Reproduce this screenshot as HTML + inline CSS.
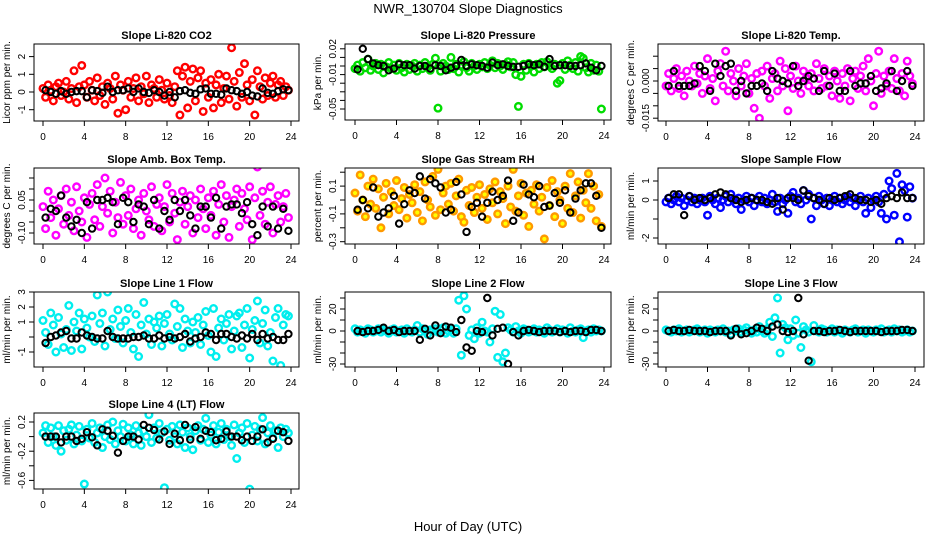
<!DOCTYPE html>
<html><head><meta charset="utf-8"><style>
body{margin:0;background:#fff;}
svg{display:block;font-family:"Liberation Sans",sans-serif;}
</style></head><body>
<svg id="c" width="936" height="540">
<text x="468" y="13" text-anchor="middle" font-size="13">NWR_130704  Slope Diagnostics</text>
<text x="468" y="531" text-anchor="middle" font-size="13">Hour of Day (UTC)</text>
</svg>
<script>
const xTicks=[0,4,8,12,16,20,24];
const hoursColor=Array.from({length:96},(_, i)=>i*0.25);
const hoursBlack=Array.from({length:48},(_, i)=>i*0.5+0.25);

const co2Color=[0.2,-0.3,0.4,0.1,-0.5,0.3,0.5,-0.2,0.0,0.6,-0.4,0.2,1.2,-0.6,0.3,1.5,0.4,-0.3,0.6,0.1,-0.5,0.8,-0.2,0.3,-0.7,0.5,0.2,-0.4,0.9,-1.2,0.4,0.1,-1.0,0.6,-0.3,0.2,0.8,-0.5,0.3,-0.1,0.9,-0.6,0.4,0.2,-0.3,0.7,0.1,-0.4,0.5,-0.2,-0.6,0.3,1.2,-1.3,0.9,1.4,-0.9,0.6,1.3,-0.5,0.8,1.2,-1.1,0.5,-0.3,0.7,-0.9,0.4,1.0,-0.6,0.2,0.9,-0.4,2.5,0.6,-0.8,1.1,-0.3,1.6,0.4,-0.5,0.7,-1.3,1.2,0.3,-0.4,0.8,-0.2,0.5,0.9,-0.3,0.4,0.6,-0.2,0.3,0.1];
const co2Black=[0.1,0.0,-0.1,0.05,-0.1,0.0,0.05,0.05,-0.3,0.1,0.05,-0.05,0.3,0.0,0.1,0.1,0.2,0.0,0.2,0.0,-0.05,0.1,0.0,-0.2,0.0,-0.3,0.05,0.1,-0.05,-0.1,0.15,0.2,-0.1,-0.1,-0.15,0.2,0.1,0.05,-0.1,0.0,-0.2,-0.25,0.2,-0.05,-0.1,0.05,0.15,0.1];
const presColor=[-0.003,0.001,-0.006,0.004,-0.002,0.008,-0.005,0.000,0.003,-0.004,0.002,-0.008,-0.001,0.004,-0.003,0.001,-0.005,0.003,-0.002,-0.007,0.002,-0.004,0.000,0.003,-0.006,0.001,-0.003,0.004,-0.001,-0.005,0.002,0.009,-0.049,-0.006,0.003,0.000,-0.004,0.010,-0.003,0.002,-0.007,0.001,0.005,-0.002,-0.006,0.003,0.000,-0.004,0.002,-0.001,0.004,-0.003,0.001,0.006,-0.002,0.003,0.000,-0.004,0.002,0.005,-0.001,0.004,-0.010,-0.047,-0.012,0.002,-0.005,0.003,0.000,-0.007,0.002,-0.003,0.004,-0.001,0.005,0.000,-0.003,0.002,-0.020,-0.017,0.003,-0.004,0.006,0.001,-0.003,0.004,-0.006,0.011,0.009,-0.002,-0.007,0.003,-0.005,0.001,-0.006,-0.050];
const presBlack=[-0.004,0.020,0.008,0.003,0.001,0.000,-0.005,-0.003,0.002,0.001,0.001,-0.003,0.000,0.000,-0.003,0.001,0.000,-0.005,-0.002,0.000,0.007,0.000,0.002,0.001,0.000,-0.002,0.004,0.001,0.002,0.000,-0.001,-0.001,0.000,0.002,0.001,0.002,-0.001,0.008,0.000,0.001,0.001,0.000,0.000,0.001,0.003,-0.002,-0.005,0.000];
const tempColor=[-0.002,0.003,-0.004,0.001,0.005,-0.003,0.002,-0.006,0.004,0.000,-0.002,0.006,-0.001,0.003,-0.005,0.002,0.009,-0.003,0.001,-0.008,0.004,0.007,-0.002,0.012,-0.004,0.003,0.000,-0.006,0.005,-0.002,0.002,0.007,-0.005,0.001,-0.011,0.003,-0.015,0.004,-0.002,0.006,-0.007,0.001,0.003,-0.004,0.008,-0.002,0.005,-0.012,0.002,-0.003,0.006,0.000,-0.005,0.004,0.001,-0.002,0.003,-0.004,0.007,0.001,-0.003,0.005,-0.002,0.002,-0.006,0.004,0.000,-0.007,0.003,-0.002,0.005,-0.008,0.001,0.004,-0.003,0.002,0.006,-0.004,0.009,0.000,-0.010,0.003,0.012,-0.005,0.002,-0.002,0.004,-0.003,0.009,0.001,-0.004,0.003,-0.006,0.008,0.002,-0.001];
const tempBlack=[-0.002,0.004,-0.002,-0.002,-0.002,-0.001,0.006,0.004,-0.004,0.007,0.002,0.006,0.007,-0.004,0.000,-0.005,-0.002,-0.002,-0.001,-0.004,0.004,0.001,0.000,-0.001,0.006,-0.002,0.000,0.002,0.001,-0.004,0.004,-0.002,0.003,-0.004,-0.004,0.004,-0.002,-0.001,-0.001,0.002,-0.004,-0.003,-0.001,0.004,-0.004,0.000,0.004,-0.002];
const ambColor=[0.02,-0.08,0.09,-0.03,0.05,-0.11,0.01,0.07,-0.06,0.10,-0.02,0.04,-0.09,0.11,0.00,-0.05,0.06,-0.12,0.03,0.08,-0.04,0.12,-0.07,0.02,0.15,-0.01,0.09,-0.10,0.04,-0.03,0.13,-0.06,0.07,-0.02,0.10,-0.08,0.01,0.05,-0.11,0.08,0.00,-0.04,0.11,-0.07,0.03,0.06,-0.09,0.02,0.12,-0.05,0.08,-0.01,-0.13,0.04,0.09,-0.06,0.02,0.07,-0.10,0.05,-0.03,0.10,0.01,-0.08,0.06,-0.02,0.09,-0.11,0.03,0.12,-0.05,0.07,-0.12,0.02,0.05,0.10,-0.07,0.08,0.01,-0.04,0.11,-0.13,0.06,0.20,-0.02,0.09,-0.06,0.04,0.11,-0.10,0.03,0.07,-0.05,0.02,0.08,-0.03];
const ambBlack=[-0.03,0.01,0.00,0.07,-0.03,-0.07,-0.04,-0.10,0.04,-0.08,0.05,0.05,0.06,0.04,-0.06,0.06,0.04,-0.05,0.03,0.02,-0.06,0.05,-0.08,0.00,-0.04,0.05,0.00,0.05,-0.02,-0.08,0.02,0.02,-0.03,0.06,-0.08,0.02,0.03,0.03,-0.01,0.04,-0.06,-0.11,0.02,-0.07,0.02,-0.08,0.01,-0.09];
const rhColor=[0.05,-0.08,0.18,0.00,-0.12,0.10,-0.03,0.15,-0.06,0.08,-0.20,0.02,0.12,-0.10,0.06,-0.04,0.14,-0.07,0.01,0.09,-0.13,0.04,-0.02,0.11,-0.09,0.06,-0.15,0.13,0.00,-0.05,0.17,-0.11,0.22,-0.07,0.05,0.10,-0.03,0.12,-0.08,0.03,0.15,-0.12,-0.16,0.07,-0.04,0.09,-0.09,0.02,0.11,-0.06,0.04,-0.14,0.08,-0.02,0.13,-0.10,0.06,0.01,-0.17,0.10,-0.05,0.22,-0.08,0.03,0.12,-0.11,0.05,-0.19,0.07,-0.03,0.11,-0.08,0.02,-0.28,0.09,-0.04,0.14,-0.12,0.06,0.00,-0.17,0.10,-0.06,0.19,-0.09,0.03,0.13,-0.13,0.07,-0.02,0.19,-0.06,0.10,-0.15,0.04,-0.19];
const rhBlack=[-0.07,0.00,-0.06,0.09,-0.12,-0.09,-0.06,0.03,-0.17,-0.03,0.07,0.05,0.17,0.01,0.15,0.12,0.09,-0.09,-0.07,0.13,0.04,-0.23,-0.05,-0.02,-0.12,-0.02,0.06,0.00,0.03,0.14,-0.15,-0.09,0.11,0.04,0.02,0.10,-0.05,-0.04,0.05,-0.02,0.07,-0.09,0.01,0.07,0.12,0.12,0.03,-0.20];
const sampleColor=[-0.1,0.1,-0.2,0.0,0.2,-0.1,0.1,-0.3,0.0,0.2,-0.1,0.1,-0.2,0.0,0.1,-0.1,-0.8,0.2,0.0,-0.2,0.1,-0.4,0.0,0.2,-0.1,0.3,0.0,-0.2,0.1,-0.5,0.0,0.2,-0.1,0.1,-0.3,0.0,0.2,-0.1,0.1,-0.2,0.0,0.3,-0.1,-0.6,0.1,-0.2,0.0,-0.7,0.2,0.4,-0.1,0.1,-0.2,0.5,0.0,0.3,-1.0,0.1,-0.3,0.2,0.0,-0.2,0.1,-0.3,0.0,0.2,-0.1,0.1,-0.2,0.0,0.2,-0.1,0.1,-0.3,0.0,0.2,-0.1,-0.7,0.1,-0.4,0.0,0.2,-0.1,-0.7,0.3,-1.0,1.0,0.6,-0.8,1.4,-2.2,0.8,0.5,-0.9,0.7,0.1];
const sampleBlack=[0.1,0.3,0.3,-0.8,0.2,0.0,0.1,0.0,0.1,0.3,0.4,0.3,0.1,0.0,-0.1,0.0,0.1,0.0,0.0,-0.1,-0.2,0.1,-0.5,0.1,0.1,0.0,0.5,0.2,0.1,0.0,-0.2,0.1,0.0,0.1,0.2,0.3,0.1,0.0,0.0,-0.1,0.0,-0.2,0.1,0.2,0.1,0.4,0.1,0.1];
const line1Color=[1.1,0.3,-0.5,1.6,0.8,-1.0,1.3,0.2,-0.7,0.5,2.1,-0.9,1.0,0.4,1.6,-0.8,1.2,0.6,0.0,1.4,-0.3,2.8,0.9,1.6,-0.6,3.0,0.5,1.2,-0.1,1.8,0.7,-0.4,1.1,1.9,0.3,-0.8,1.5,-1.3,0.8,2.3,0.2,1.2,-0.5,1.0,0.6,1.4,-0.6,0.9,1.5,0.2,-0.2,2.2,0.7,1.9,-0.7,1.2,0.4,-0.4,1.0,0.3,1.3,-0.5,0.8,1.7,0.1,-1.0,1.9,-1.3,0.6,1.2,-0.2,0.9,1.5,-0.8,0.4,1.4,1.6,-0.7,0.8,1.9,-1.4,0.5,1.1,2.4,-0.4,0.9,1.8,-0.6,0.3,-1.6,1.3,1.9,-1.9,0.8,1.5,1.4];
const line1Black=[-0.4,0.0,0.1,0.3,0.4,-0.1,-0.1,0.3,0.1,0.0,-0.1,-0.1,0.4,0.0,-0.1,-0.1,-0.1,0.0,0.0,0.1,-0.1,-0.1,0.1,-0.1,0.0,-0.1,0.0,0.2,-0.3,-0.1,0.0,0.3,0.2,-0.2,0.2,0.2,0.0,-0.1,0.1,-0.1,0.2,-0.2,0.2,-0.1,0.0,-0.2,-0.2,0.2];
const line2Color=[2,-1,1,0,-2,2,1,-1,0,2,-1,1,0,-2,1,2,-1,0,1,-2,2,0,-1,1,5,-1,2,0,-3,1,0,2,-1,1,3,-2,0,1,-2,2,28,-22,32,20,-4,1,-7,3,-2,8,0,-1,-10,2,18,-24,15,-28,-20,3,1,-1,4,0,-2,2,1,-1,0,2,-1,1,0,-2,3,1,-1,0,2,-1,1,0,-2,3,0,-1,1,2,-6,0,1,-1,2,0,1,0];
const line2Black=[0,-1,0,0,1,3,0,1,-1,0,0,0,-8,2,-4,5,-2,4,3,-1,10,-15,-18,0,-1,30,-4,2,3,-30,-1,-4,0,1,0,-1,0,0,0,-1,0,-1,0,0,-1,1,1,0];
const line3Color=[1,0,-1,1,0,2,-1,0,1,-1,0,1,2,-1,0,1,-2,1,0,-1,1,0,2,-1,0,-3,1,0,2,-1,1,3,0,-2,1,-1,4,0,-2,2,8,-5,12,30,-20,6,3,-8,2,-4,10,-2,-15,4,1,-1,-28,5,0,-1,2,1,-1,0,2,-1,1,0,-2,1,0,-1,1,2,-1,0,1,-2,1,0,-1,1,0,2,-1,0,1,-1,2,0,1,-1,0,1,-1,0];
const line3Black=[0,1,0,0,1,0,0,0,-1,0,0,0,-4,2,-3,-2,0,3,2,0,4,6,0,-1,0,30,-3,-27,0,0,-1,0,0,1,0,-1,0,0,0,0,0,-1,0,0,0,1,1,0];
const line4Color=[0.05,0.15,-0.08,0.12,0.0,-0.12,0.15,-0.2,0.08,-0.05,0.1,0.16,-0.1,0.02,0.14,-0.06,-0.65,0.1,-0.02,0.18,-0.08,0.05,0.12,-0.15,0.0,0.16,-0.04,0.2,-0.1,0.08,0.0,0.17,-0.06,0.12,0.02,-0.1,0.15,0.05,-0.12,0.08,0.0,0.3,-0.08,0.12,-0.02,0.18,0.05,-0.7,0.1,-0.05,0.14,0.0,-0.1,0.16,0.06,-0.15,0.12,0.0,-0.18,0.08,0.15,-0.05,0.1,0.25,-0.08,0.02,0.15,-0.1,0.06,0.18,-0.04,0.1,0.0,-0.12,0.16,-0.3,0.05,0.12,-0.08,0.18,-0.72,0.02,0.14,-0.06,0.1,0.26,-0.1,0.05,0.15,-0.02,0.08,-0.15,0.12,0.0,0.1,0.05];
const line4Black=[0.0,0.0,0.0,-0.08,0.0,0.0,-0.06,-0.03,0.06,-0.01,-0.12,0.1,0.08,0.01,-0.22,-0.06,0.0,0.0,-0.04,0.16,0.12,0.09,-0.04,0.07,-0.1,0.04,-0.05,0.16,-0.04,0.13,-0.03,0.08,0.06,-0.05,-0.03,0.07,0.0,0.0,-0.05,0.0,-0.06,0.0,0.1,-0.08,-0.03,0.08,0.06,-0.06];

const yTicksCo2=[-1,0,1,2], yLabCo2=["-1","0","1","2"];
const yTicksPres=[0.02,0.01,0,-0.01,-0.02,-0.03,-0.04,-0.05], yLabPres=["0.02","","","-0.01","","","","-0.05"];
const yTicksTemp=[0.01,0.005,0,-0.005,-0.01,-0.015], yLabTemp=["","","0.000","","","-0.015"];
const yTicksAmb=[0.15,0.10,0.05,0,-0.05,-0.10], yLabAmb=["","","0.05","","","-0.10"];
const yTicksRh=[0.2,0.1,0,-0.1,-0.2,-0.3], yLabRh=["","0.1","","-0.1","","-0.3"];
const yTicksSample=[1,0,-1,-2], yLabSample=["1","0","","-2"];
const yTicksL1=[3,2,1,0,-1], yLabL1=["3","2","1","","-1"];
const yTicksL2=[30,20,10,0,-10,-20,-30], yLabL2=["","20","","0","","","-30"];
const yTicksL4=[0.2,0,-0.2,-0.4,-0.6], yLabL4=["0.2","","-0.2","","-0.6"];

const panels=[
 {name:"co2",title:"Slope Li-820 CO2",ylab:"Licor ppm per min.",L:34,R:299,T:44,B:121,x0:43,x24:291,y0:92,k:17.7,col:"#ff0000",c:co2Color,b:co2Black,yt:yTicksCo2,yl:yLabCo2},
 {name:"pressure",title:"Slope Li-820 Pressure",ylab:"kPa per min.",L:345,R:611,T:44,B:120,x0:355,x24:604,y0:66,k:860,col:"#00dd00",c:presColor,b:presBlack,yt:yTicksPres,yl:yLabPres},
 {name:"temp",title:"Slope Li-820 Temp.",ylab:"degrees C per min.",L:658,R:924,T:44,B:121,x0:666,x24:915,y0:81,k:2480,col:"#ff00ff",c:tempColor,b:tempBlack,yt:yTicksTemp,yl:yLabTemp},
 {name:"amb-box-temp",title:"Slope Amb. Box Temp.",ylab:"degrees C per min.",L:34,R:299,T:168,B:244,x0:43,x24:291,y0:211,k:220,col:"#ff00ff",c:ambColor,b:ambBlack,yt:yTicksAmb,yl:yLabAmb},
 {name:"gas-rh",title:"Slope Gas Stream RH",ylab:"percent per min.",L:345,R:611,T:168,B:244,x0:355,x24:604,y0:200,k:139,col:"#ff9900",c:rhColor,b:rhBlack,yt:yTicksRh,yl:yLabRh,inner:"#ffff00"},
 {name:"sample-flow",title:"Slope Sample Flow",ylab:"ml/min per min.",L:658,R:924,T:168,B:244,x0:666,x24:915,y0:200,k:19,col:"#0000ff",c:sampleColor,b:sampleBlack,yt:yTicksSample,yl:yLabSample},
 {name:"line1-flow",title:"Slope Line 1 Flow",ylab:"ml/min per min.",L:34,R:299,T:292,B:367,x0:43,x24:291,y0:337,k:15,col:"#00eeee",c:line1Color,b:line1Black,yt:yTicksL1,yl:yLabL1},
 {name:"line2-flow",title:"Slope Line 2 Flow",ylab:"ml/min per min.",L:345,R:611,T:292,B:367,x0:355,x24:604,y0:331,k:1.1,col:"#00eeee",c:line2Color,b:line2Black,yt:yTicksL2,yl:yLabL2},
 {name:"line3-flow",title:"Slope Line 3 Flow",ylab:"ml/min per min.",L:658,R:924,T:292,B:367,x0:666,x24:915,y0:331,k:1.1,col:"#00eeee",c:line3Color,b:line3Black,yt:yTicksL2,yl:yLabL2},
 {name:"line4-flow",title:"Slope Line 4 (LT) Flow",ylab:"ml/min per min.",L:34,R:299,T:413,B:489,x0:43,x24:291,y0:436.6,k:73,col:"#00eeee",c:line4Color,b:line4Black,yt:yTicksL4,yl:yLabL4}
];
const NS="http://www.w3.org/2000/svg";
const svg=document.getElementById("c");
function mk(tag,attrs,parent){const e=document.createElementNS(NS,tag);for(const a in attrs)e.setAttribute(a,attrs[a]);(parent||svg).appendChild(e);return e;}
panels.forEach(p=>{
  const g=mk("g",{});
  
  
  const xs=h=>p.x0+(p.x24-p.x0)*h/24;
  const ys=v=>p.y0-v*p.k;
  const cp="clip-"+p.name;
  const cpe=mk("clipPath",{id:cp},g);
  mk("rect",{x:p.L,y:p.T,width:p.R-p.L,height:p.B-p.T},cpe);
  const pts=mk("g",{"clip-path":"url(#"+cp+")"},g);
  p.c.forEach((v,i)=>{
    const c=mk("circle",{cx:xs(hoursColor[i]),cy:ys(v),r:3.3,fill:p.inner?p.inner:"none",stroke:p.col,"stroke-width":2.4},pts);
    
    
  });
  p.b.forEach((v,i)=>{
    const c=mk("circle",{cx:xs(hoursBlack[i]),cy:ys(v),r:3.2,fill:"none",stroke:"#000","stroke-width":2},pts);
    
    
  });
  const box=mk("rect",{x:p.L,y:p.T,width:p.R-p.L,height:p.B-p.T,fill:"none",stroke:"#000","stroke-width":1},g);
  
  
  const t=mk("text",{x:(p.L+p.R)/2,y:p.T-5,"text-anchor":"middle","font-size":11,"font-weight":"bold"},g);
  t.textContent=p.title;
  
  
  mk("line",{x1:xs(0),x2:xs(24),y1:p.B,y2:p.B,stroke:"#000"},g);
  xTicks.forEach(h=>{
    mk("line",{x1:xs(h),x2:xs(h),y1:p.B,y2:p.B+5,stroke:"#000"},g);
    const tl=mk("text",{x:xs(h),y:p.B+19,"text-anchor":"middle","font-size":10},g);
    tl.textContent=h;
    
    
  });
  p.yt.forEach((v,i)=>{
    const y=ys(v);
    if(y<p.T-1||y>p.B+1)return;
    mk("line",{x1:p.L-5,x2:p.L,y1:y,y2:y,stroke:"#000"},g);
    if(p.yl[i]){
      const tl=mk("text",{x:0,y:0,"text-anchor":"middle","font-size":10,transform:`translate(${p.L-9},${y}) rotate(-90)`},g);
      tl.textContent=p.yl[i];
      
      
    }
  });
  const yl=mk("text",{x:0,y:0,"text-anchor":"middle","font-size":10,transform:`translate(${p.L-24},${(p.T+p.B)/2}) rotate(-90)`},g);
  yl.textContent=p.ylab;
  
  
});
</script>
</body></html>
